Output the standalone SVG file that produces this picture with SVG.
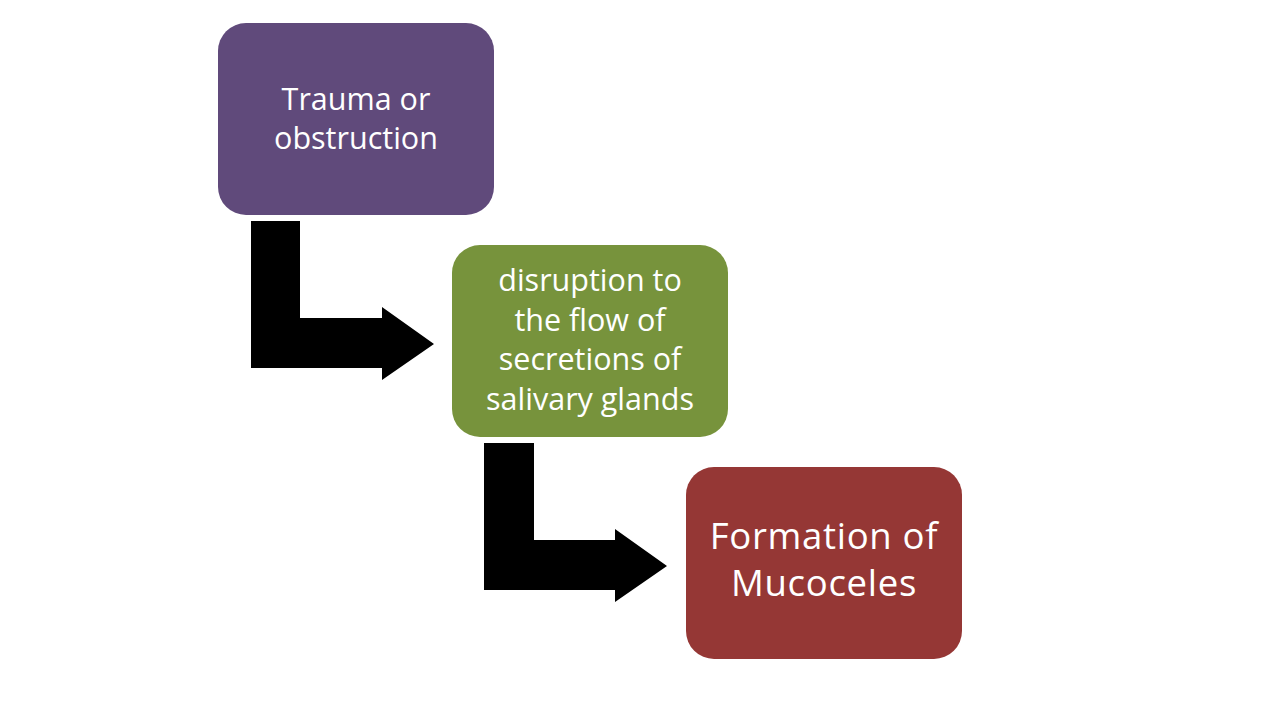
<svg xmlns="http://www.w3.org/2000/svg" width="1280" height="707" viewBox="0 0 1280 707">
<style>
.box{stroke:none}
.t{font-family:"Open Sans","Noto Sans","Liberation Sans",sans-serif;fill:#ffffff;text-anchor:middle;font-variant-ligatures:none}
.arrow{fill:#000000}
</style>
<rect width="1280" height="707" fill="#ffffff"/>
<g id="connectors">
<path class="arrow" d="M251,221 H300 V318 H382 V307 L434,344 L382,380 V368 H251 Z"/>
<path class="arrow" d="M484,443 H534 V540 H615 V529 L667,566 L615,602 V590 H484 Z"/>
</g>
<g id="node1">
<rect class="box" x="218" y="23" width="276" height="192" rx="28" fill="#604A7B"/>
<text class="t" font-size="30.5"><tspan x="356" y="110">Trauma or</tspan><tspan x="356" y="149">obstruction</tspan></text>
</g>
<g id="node2">
<rect class="box" x="452" y="245" width="276" height="192" rx="28" fill="#77933C"/>
<text class="t" font-size="30.5"><tspan x="590" y="291">disruption to</tspan><tspan x="590" y="331">the flow of</tspan><tspan x="590" y="370">secretions of</tspan><tspan x="590" y="410">salivary glands</tspan></text>
</g>
<g id="node3">
<rect class="box" x="686" y="467" width="276" height="192" rx="28" fill="#953735"/>
<text class="t" font-size="36.5" letter-spacing="0.7"><tspan x="824" y="549">Formation of</tspan><tspan x="824" y="596">Mucoceles</tspan></text>
</g>
</svg>
